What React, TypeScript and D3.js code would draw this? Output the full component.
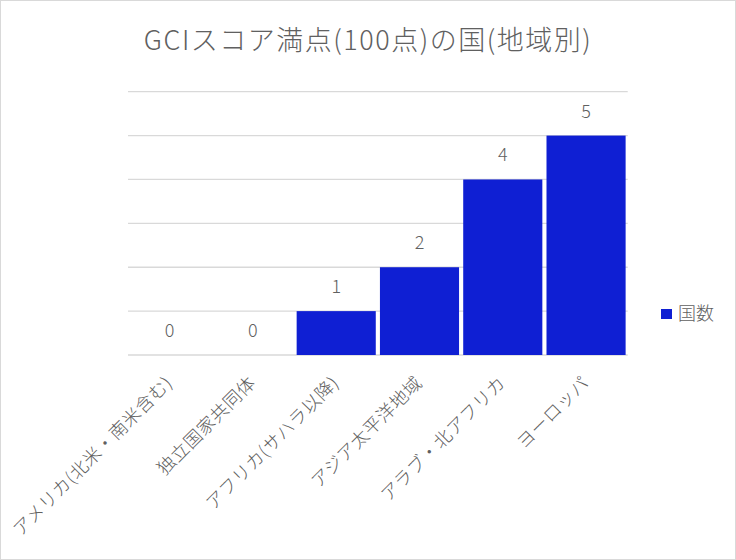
import { useEffect, useRef } from "react";
import * as d3 from "d3";

const categories = [
  "アメリカ(北米・南米含む)",
  "独立国家共同体",
  "アフリカ(サハラ以降)",
  "アジア太平洋地域",
  "アラブ・北アフリカ",
  "ヨーロッパ",
];
const counts = [0, 0, 1, 2, 4, 5];
const yTicks = [0, 1, 2, 3, 4, 5, 6];
const seriesName = "国数";
const title = "GCIスコア満点(100点)の国(地域別)";

const W = 736;
const H = 560;
const FONT = "'Noto Sans CJK JP', 'Noto Sans', sans-serif";
const TEXT = "#606060";
const GRID = "#d9d9d9";
const BAR = "#0f1fd3";

export default function App() {
  const svgRef = useRef<SVGSVGElement>(null);

  useEffect(() => {
    if (!svgRef.current) return;
    const svg = d3.select(svgRef.current);
    svg.selectAll("*").remove();

    const x = d3
      .scaleBand<string>()
      .domain(categories)
      .range([128, 627.7])
      .paddingInner(0.05)
      .paddingOuter(0.025);
    const y = d3.scaleLinear().domain([0, 6]).range([355, 91.7]);

    // chart area
    svg
      .append("rect")
      .attr("x", 0.5)
      .attr("y", 0.5)
      .attr("width", W - 1)
      .attr("height", H - 1)
      .attr("fill", "#fff")
      .attr("stroke", GRID)
      .attr("stroke-width", 1);

    // title
    svg
      .append("text")
      .attr("x", W / 2)
      .attr("y", 50)
      .attr("text-anchor", "middle")
      .attr("font-size", 27)
      .attr("letter-spacing", 1.5)
      .attr("fill", TEXT)
      .text(title);

    // gridlines
    svg
      .append("g")
      .selectAll("line")
      .data(yTicks)
      .join("line")
      .attr("x1", 128)
      .attr("x2", 627.7)
      .attr("y1", (d) => y(d))
      .attr("y2", (d) => y(d))
      .attr("stroke", GRID)
      .attr("stroke-width", 1.3);

    // bars
    svg
      .append("g")
      .selectAll("rect")
      .data(counts)
      .join("rect")
      .attr("x", (_, i) => x(categories[i])!)
      .attr("width", x.bandwidth())
      .attr("y", (d) => y(d))
      .attr("height", (d) => y(0) - y(d))
      .attr("fill", BAR);

    // data labels
    svg
      .append("g")
      .selectAll("text")
      .data(counts)
      .join("text")
      .attr("x", (_, i) => x(categories[i])! + x.bandwidth() / 2)
      .attr("y", (d) => y(d) - 18)
      .attr("text-anchor", "middle")
      .attr("font-size", 18)
      .attr("fill", TEXT)
      .text((d) => d);

    // category labels (rotated)
    svg
      .append("g")
      .selectAll("text")
      .data(categories)
      .join("text")
      .attr("transform", (d) => {
        const cx = x(d)! + x.bandwidth() / 2 + 4;
        return `translate(${cx},384) rotate(-45)`;
      })
      .attr("text-anchor", "end")
      .attr("font-size", 18)
      .attr("letter-spacing", 0.6)
      .attr("fill", TEXT)
      .text((d) => d);

    // legend
    const legend = svg.append("g").attr("transform", "translate(661,309)");
    legend.append("rect").attr("width", 11).attr("height", 10).attr("fill", BAR);
    legend
      .append("text")
      .attr("x", 17)
      .attr("y", 11)
      .attr("font-size", 18)
      .attr("fill", TEXT)
      .text(seriesName);
  }, []);

  return (
    <div style={{ position: "absolute", left: 0, top: 0 }}>
      <svg
        ref={svgRef}
        width={W}
        height={H}
        style={{ display: "block", fontFamily: FONT, fontWeight: 300 }}
      />
    </div>
  );
}
